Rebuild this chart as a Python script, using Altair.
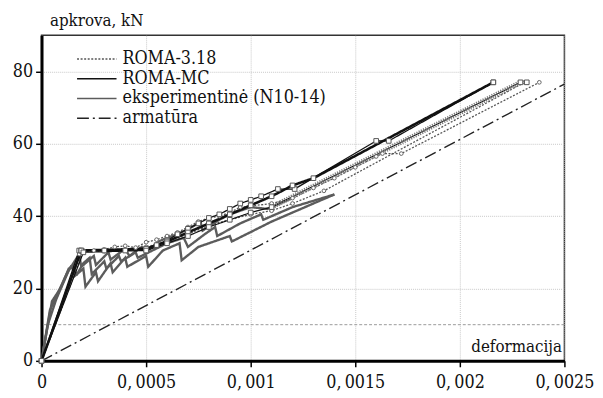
import altair as alt
import pandas as pd

FONT = "DejaVu Serif Condensed"

series_names = ["ROMA-3.18", "ROMA-MC", "eksperimentinė (N10-14)", "armatūra"]
series_colors = ["#555555", "#111111", "#5c5c5c", "#222222"]
series_dash = [[2, 1.6], [1, 0], [1, 0], [12, 4, 2, 4]]

x_ticks = [0, 0.0005, 0.001, 0.0015, 0.002, 0.0025]
y_ticks = [0, 10, 20, 30, 40, 50, 60, 70, 80, 90]
ref_level = [10]

# experimental curves (grey)
e1_x = [0, 0.00005, 0.00009, 0.00013, 0.00015, 0.00016, 0.0002, 0.00021, 0.00026, 0.00027, 0.00033, 0.00034,
        0.0004, 0.00041, 0.0005, 0.00051, 0.00058, 0.00066, 0.00067, 0.00075, 0.0009, 0.00091, 0.0011, 0.0014]
e1_y = [0, 16.5, 20, 25.5, 26.3, 23.5, 25.5, 20.5, 24.5, 22, 27, 24.5,
        28.5, 26, 29, 26, 30.5, 32.5, 27.8, 31.5, 34.5, 33, 38.5, 46]
e2_x = [0, 0.00004, 0.00008, 0.00012, 0.00014, 0.00017, 0.0002, 0.00023, 0.00024, 0.0003, 0.00031, 0.00037,
        0.00038, 0.00045, 0.00046, 0.00053, 0.0006, 0.00068, 0.0007, 0.00078, 0.00083, 0.00084, 0.00095,
        0.00105, 0.00106, 0.0012, 0.0014]
e2_y = [0, 14, 19, 24, 26, 24, 27, 28.5, 24, 27.5, 25.5, 29,
        27.5, 30, 28.5, 30.5, 32.5, 34, 31.5, 35, 37, 34.5, 38,
        40.5, 39, 42.5, 46]
e3_x = [0, 0.00003, 0.00007, 0.0001, 0.00013, 0.00018, 0.00019, 0.00025, 0.00026, 0.00032, 0.00033, 0.0004,
        0.00042, 0.00048, 0.0005, 0.00056, 0.0006, 0.00065, 0.00072, 0.00076, 0.00077, 0.00085, 0.0009, 0.001,
        0.00108, 0.0012]
e3_y = [0, 10, 17, 21, 25, 29.5, 26, 29, 26.5, 30, 28, 31,
        29, 31.5, 30, 33, 34, 35, 37, 38.5, 36, 39, 40.5, 42.5,
        42, 45]

# ROMA-MC curves
mc1_x = [0, 0.00018, 0.00019, 0.0003, 0.0004, 0.0005, 0.00055, 0.0006, 0.00065, 0.0007, 0.00075, 0.0008,
         0.00085, 0.0009, 0.00095, 0.001, 0.00105, 0.00113, 0.00121, 0.0016, 0.00166, 0.00216]
mc1_y = [0, 30.5, 30.5, 30.5, 30.5, 30.8, 32, 33.3, 35, 36.5, 38, 39.5,
         40.5, 42, 43.5, 44.5, 45.5, 47.5, 47.5, 60.8, 60.8, 77]
mc2_x = [0, 0.00019, 0.0005, 0.0006, 0.0007, 0.0008, 0.0009, 0.001, 0.0011, 0.0012, 0.0013, 0.00216]
mc2_y = [0, 30.5, 31, 33, 35.5, 38, 40.5, 43, 45.5, 48.5, 50.5, 77]
mc3_x = [0, 0.0002, 0.0005, 0.0006, 0.0007, 0.0008, 0.0009, 0.001, 0.0011, 0.00229, 0.00232]
mc3_y = [0, 30, 30.5, 32.5, 34.5, 37, 39, 41, 42.5, 77, 77]

# ROMA-3.18 curves
r1_x = [0, 0.00018, 0.0002, 0.00025, 0.0003, 0.00035, 0.0004, 0.00045, 0.0005, 0.00055, 0.0006, 0.00065,
        0.0007, 0.00075, 0.0008, 0.00085, 0.0009, 0.00095, 0.001, 0.0011, 0.0012, 0.0013, 0.0014, 0.0015,
        0.0016, 0.00163, 0.00172, 0.00238]
r1_y = [0, 29.5, 30.5, 30.5, 30.8, 31.5, 31.8, 31.3, 32.8, 33.5, 34.5, 35.5,
        37, 38.5, 39.5, 40, 41, 42.5, 42.8, 43.5, 45, 47.8, 50.5, 53.5,
        56.5, 57.3, 57.3, 77]
r2_x = [0, 0.0002, 0.0003, 0.0004, 0.0005, 0.0006, 0.0007, 0.0008, 0.0009, 0.001, 0.0011, 0.0012, 0.00135,
        0.00231]
r2_y = [0, 30.3, 30.3, 30.8, 31.5, 33, 35, 37.5, 39, 40.5, 41.5, 43.5, 47, 77]

# reinforcement
arm_x = [0, 0.0025]
arm_y = [0, 76.5]


def frame(series, lid, xs, ys, w):
    return pd.DataFrame({"series": series, "lid": lid, "x": xs, "y": ys,
                         "o": list(range(len(xs))), "w": w})


exp_df = pd.concat([frame(series_names[2], "e1", e1_x, e1_y, 2.4),
                    frame(series_names[2], "e2", e2_x, e2_y, 2.4),
                    frame(series_names[2], "e3", e3_x, e3_y, 2.4)])
mc_df = pd.concat([frame(series_names[1], "m1", mc1_x, mc1_y, 1.3),
                   frame(series_names[1], "m2", mc2_x, mc2_y, 2.6),
                   frame(series_names[1], "m3", mc3_x, mc3_y, 1.2)])
r_df = pd.concat([frame(series_names[0], "r1", r1_x, r1_y, 1.3),
                  frame(series_names[0], "r2", r2_x, r2_y, 1.3)])
arm_df = frame(series_names[3], "a", arm_x, arm_y, 1.4)
hatch_df = frame(series_names[1], "h", mc3_x[8:10], mc3_y[8:10], 5)
ref_df = pd.DataFrame({"level": ref_level})

x_enc = alt.X("x:Q", scale=alt.Scale(domain=[0, 0.0025], nice=False),
              axis=alt.Axis(values=x_ticks, title="deformacija",
                            labelExpr="replace(format(datum.value, '~g'), '.', ',\u2009')",
                            titleX=527, titleY=-9, titleAlign="right", titleBaseline="alphabetic",
                            titleAnchor=None, labelPadding=7, labelFlush=False))
y_enc = alt.Y("y:Q", scale=alt.Scale(domain=[0, 90], nice=False),
              axis=alt.Axis(values=y_ticks, title="apkrova, kN",
                            labelExpr="datum.value % 20 == 0 ? datum.label : ''",
                            titleAngle=0, titleX=8, titleY=-10, titleAlign="left",
                            titleBaseline="alphabetic", labelPadding=3))
legend_kw = dict(title=None, orient="none", legendX=45, legendY=13,
                 symbolType="M-2,0L2,0", symbolSize=400, symbolStrokeWidth=1.5,
                 labelFont=FONT, labelFontSize=18, labelColor="#111",
                 labelOffset=15, rowPadding=-1, labelLimit=400)
color_enc = alt.Color("series:N", scale=alt.Scale(domain=series_names, range=series_colors),
                      legend=alt.Legend(**legend_kw))
dash_enc = alt.StrokeDash("series:N", scale=alt.Scale(domain=series_names, range=series_dash),
                          legend=alt.Legend(**legend_kw))
sw_enc = alt.StrokeWidth("w:Q", scale=None, legend=None)


def lines(df):
    return alt.Chart(df).mark_line(clip=True).encode(
        x=x_enc, y=y_enc, color=color_enc, strokeDash=dash_enc,
        strokeWidth=sw_enc, detail="lid:N", order="o:Q")


ref_rule = alt.Chart(ref_df).mark_rule(color="#9a9a9a", strokeDash=[3, 2], strokeWidth=1).encode(
    y=alt.Y("level:Q"))

hatch = alt.Chart(hatch_df).mark_line(color="#7a7a7a", strokeDash=[1.2, 1.3], strokeWidth=5).encode(
    x="x:Q", y="y:Q", order="o:Q")

mc_pts = alt.Chart(mc_df).mark_point(shape="square", filled=True, fill="white", stroke="#555",
                                     strokeWidth=1, size=22, opacity=1).encode(x="x:Q", y="y:Q")
r_pts = alt.Chart(r_df).mark_point(shape="circle", filled=True, fill="white", stroke="#666",
                                   strokeWidth=1, size=14, opacity=1).encode(x="x:Q", y="y:Q")

chart = alt.layer(
    ref_rule, lines(arm_df), lines(exp_df), lines(r_df), lines(mc_df), hatch, r_pts, mc_pts
).properties(
    width=530, height=330,
    autosize=alt.AutoSizeParams(type="none"),
    padding={"left": 34, "top": 25, "right": 31, "bottom": 36},
    background="white",
).configure(
    font=FONT
).configure_view(
    stroke="#333", strokeWidth=1.5
).configure_axis(
    labelFont=FONT, titleFont=FONT, labelFontSize=18, titleFontSize=17,
    labelColor="#111", titleColor="#111", titleFontWeight="normal",
    domainColor="#000", domainWidth=3, tickColor="#000", tickWidth=1.5, tickSize=6,
    gridColor="#c8c8c8", gridDash=[1, 1], gridWidth=1,
)

chart.save("out.html", embed_options={"renderer": "svg", "actions": False})
